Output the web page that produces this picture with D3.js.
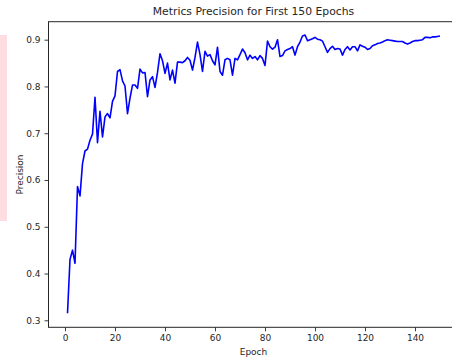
<!DOCTYPE html>
<html><head><meta charset="utf-8">
<script src="https://cdn.jsdelivr.net/npm/d3@7/dist/d3.min.js"></script>
<style>
html,body{margin:0;padding:0;background:#fff;}
svg{display:block;font-family:"DejaVu Sans",sans-serif;}
</style></head>
<body>
<svg id="c" width="452" height="360"></svg>
<script>
const title = "Metrics Precision for First 150 Epochs";
const xLabel = "Epoch";
const yLabel = "Precision";
const xTicks = [0, 20, 40, 60, 80, 100, 120, 140];
const yTicks = [0.3, 0.4, 0.5, 0.6, 0.7, 0.8, 0.9];
const precision = [
  0.315, 0.430, 0.450, 0.422, 0.586, 0.566, 0.635, 0.662, 0.666, 0.685,
  0.698, 0.777, 0.680, 0.747, 0.692, 0.735, 0.742, 0.733, 0.768, 0.780,
  0.832, 0.836, 0.812, 0.801, 0.742, 0.775, 0.803, 0.803, 0.796, 0.837,
  0.829, 0.830, 0.778, 0.814, 0.821, 0.798, 0.830, 0.870, 0.855, 0.828,
  0.850, 0.814, 0.835, 0.807, 0.852, 0.852, 0.851, 0.855, 0.862, 0.856,
  0.835, 0.862, 0.895, 0.868, 0.832, 0.875, 0.865, 0.868, 0.855, 0.846,
  0.884, 0.832, 0.824, 0.857, 0.860, 0.857, 0.824, 0.860, 0.857, 0.868,
  0.880, 0.872, 0.857, 0.867, 0.860, 0.864, 0.857, 0.866, 0.860, 0.845,
  0.897, 0.885, 0.880, 0.884, 0.900, 0.864, 0.866, 0.876, 0.879, 0.881,
  0.885, 0.867, 0.885, 0.895, 0.908, 0.910, 0.898, 0.900, 0.902, 0.905,
  0.901, 0.900, 0.897, 0.885, 0.873, 0.881, 0.886, 0.879, 0.881, 0.880,
  0.867, 0.879, 0.885, 0.878, 0.885, 0.885, 0.876, 0.889, 0.886, 0.884,
  0.879, 0.881, 0.887, 0.889, 0.892, 0.893, 0.895, 0.898, 0.900, 0.899,
  0.898, 0.897, 0.896, 0.896, 0.896, 0.893, 0.891, 0.893, 0.896, 0.898,
  0.898, 0.899, 0.900, 0.905, 0.905, 0.904, 0.906, 0.906, 0.907, 0.908
];
const epochs = precision.map((_, i) => i + 1);

const svg = d3.select("#c");
const L = 48.5, T = 21.7, B = 327.3, R = 458.6;
const ink = "#262626";

// pink strip at left edge
svg.append("rect").attr("x", 0).attr("y", 35).attr("width", 7).attr("height", 186)
  .attr("fill", "#fddde1");

const x = d3.scaleLinear().domain([0, 140]).range([65, 415]);
const y = d3.scaleLinear().domain([0.3, 0.9]).range([320.3, 39.7]);

const line = d3.line().x((d, i) => x(epochs[i])).y(d => y(d));
svg.append("path").datum(precision).attr("d", line)
  .attr("fill", "none").attr("stroke", "#0000ff").attr("stroke-width", 1.6)
  .attr("stroke-linejoin", "round");

// frame
svg.append("rect").attr("x", L).attr("y", T).attr("width", R - L).attr("height", B - T)
  .attr("fill", "none").attr("stroke", ink).attr("stroke-width", 1);

const xAxis = svg.append("g").attr("transform", `translate(0,${B})`)
  .call(d3.axisBottom(x).tickValues(xTicks).tickSize(4).tickPadding(3).tickFormat(d3.format("d")));
const yAxis = svg.append("g").attr("transform", `translate(${L},0)`)
  .call(d3.axisLeft(y).tickValues(yTicks).tickSize(4).tickPadding(4).tickFormat(d3.format(".1f")));
[xAxis, yAxis].forEach(g => {
  g.select(".domain").remove();
  g.selectAll("line").attr("stroke", ink).attr("stroke-width", 0.9);
  g.selectAll("text").attr("fill", ink).style("font-size", "9px")
    .style("font-family", "'DejaVu Sans', sans-serif");
});

svg.append("text").attr("x", 253.5).attr("y", 15).attr("text-anchor", "middle")
  .attr("fill", ink).style("font-size", "10.8px").text(title);
svg.append("text").attr("x", 253.5).attr("y", 355).attr("text-anchor", "middle")
  .attr("fill", ink).style("font-size", "9px").text(xLabel);
svg.append("text").attr("transform", "translate(22.5,174.5) rotate(-90)")
  .attr("text-anchor", "middle").attr("fill", ink).style("font-size", "9px").text(yLabel);
</script>
</body></html>
